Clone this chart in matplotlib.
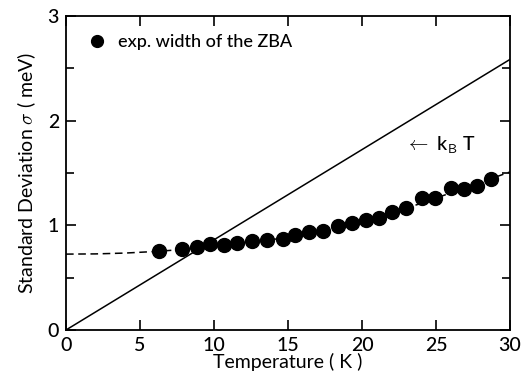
import matplotlib
matplotlib.use("Agg")
import matplotlib.pyplot as plt
import numpy as np

plt.rcParams['font.family'] = ['Lato', 'DejaVu Sans']
plt.rcParams['font.weight'] = 'medium'
plt.rcParams['mathtext.fontset'] = 'cm'

# measured data (exp. width of the ZBA)
temp_pts = [6.3, 7.84, 8.85, 9.73, 10.65, 11.57, 12.6, 13.58, 14.66, 15.47, 16.44,
            17.34, 18.36, 19.35, 20.25, 21.15, 22.03, 23.0, 24.08, 24.96, 26.0,
            26.87, 27.77, 28.7]
sigma_pts = [0.757, 0.774, 0.79, 0.82, 0.81, 0.83, 0.853, 0.862, 0.869, 0.907, 0.933,
             0.948, 0.996, 1.019, 1.048, 1.067, 1.127, 1.165, 1.264, 1.264, 1.356,
             1.344, 1.38, 1.445]

# dashed fit curve
fit_T = [0, 2, 4, 6, 8, 10, 12, 14, 16, 18, 20, 22, 24, 26, 28, 30]
fit_sigma = [0.725, 0.727, 0.735, 0.75, 0.77, 0.80, 0.83, 0.865, 0.91, 0.97,
             1.04, 1.12, 1.21, 1.31, 1.41, 1.51]

# k_B T line
kB = 0.08617  # meV/K
kbt_T = [0, 30]
kbt_sigma = [0, 30 * kB]

fig = plt.figure(figsize=(5.23, 3.79), dpi=100)
ax = fig.add_axes([0.1262, 0.1293, 0.9751 - 0.1262, 0.9578 - 0.1293])

ax.plot(fit_T, fit_sigma, linestyle=(0, (5, 3)), color='black', lw=1.1, zorder=2)
ax.plot(kbt_T, kbt_sigma, color='black', lw=1.1, zorder=2)
ax.plot(temp_pts, sigma_pts, 'o', color='black', ms=10, zorder=3,
        label='exp. width of the ZBA')

ax.set_xlim(0, 30)
ax.set_ylim(0, 3)
ax.set_xticks([0, 5, 10, 15, 20, 25, 30])
ax.set_yticks([0, 1, 2, 3])
ax.set_yticks([0.5, 1.5, 2.5], minor=True)
ax.tick_params(which='both', direction='in', top=True, right=True, labelsize=14,
               width=1.2)
ax.tick_params(which='major', length=7, pad=5)
ax.tick_params(which='minor', length=6)
for s in ax.spines.values():
    s.set_linewidth(1.3)

ax.set_xlabel('Temperature ( K )', fontsize=14, labelpad=-1)
ax.set_ylabel(r'Standard Deviation $\sigma$ ( meV)', fontsize=14, labelpad=7)

ax.text(22.9, 1.76, r'$\leftarrow$ k$_\mathsf{B}$ T', fontsize=14, va='center', ha='left')

ax.legend(loc='upper left', frameon=False, fontsize=13, handletextpad=0.5,
          borderaxespad=0.6, handlelength=1.4, markerscale=0.85)

fig.savefig('out.png', dpi=100)
